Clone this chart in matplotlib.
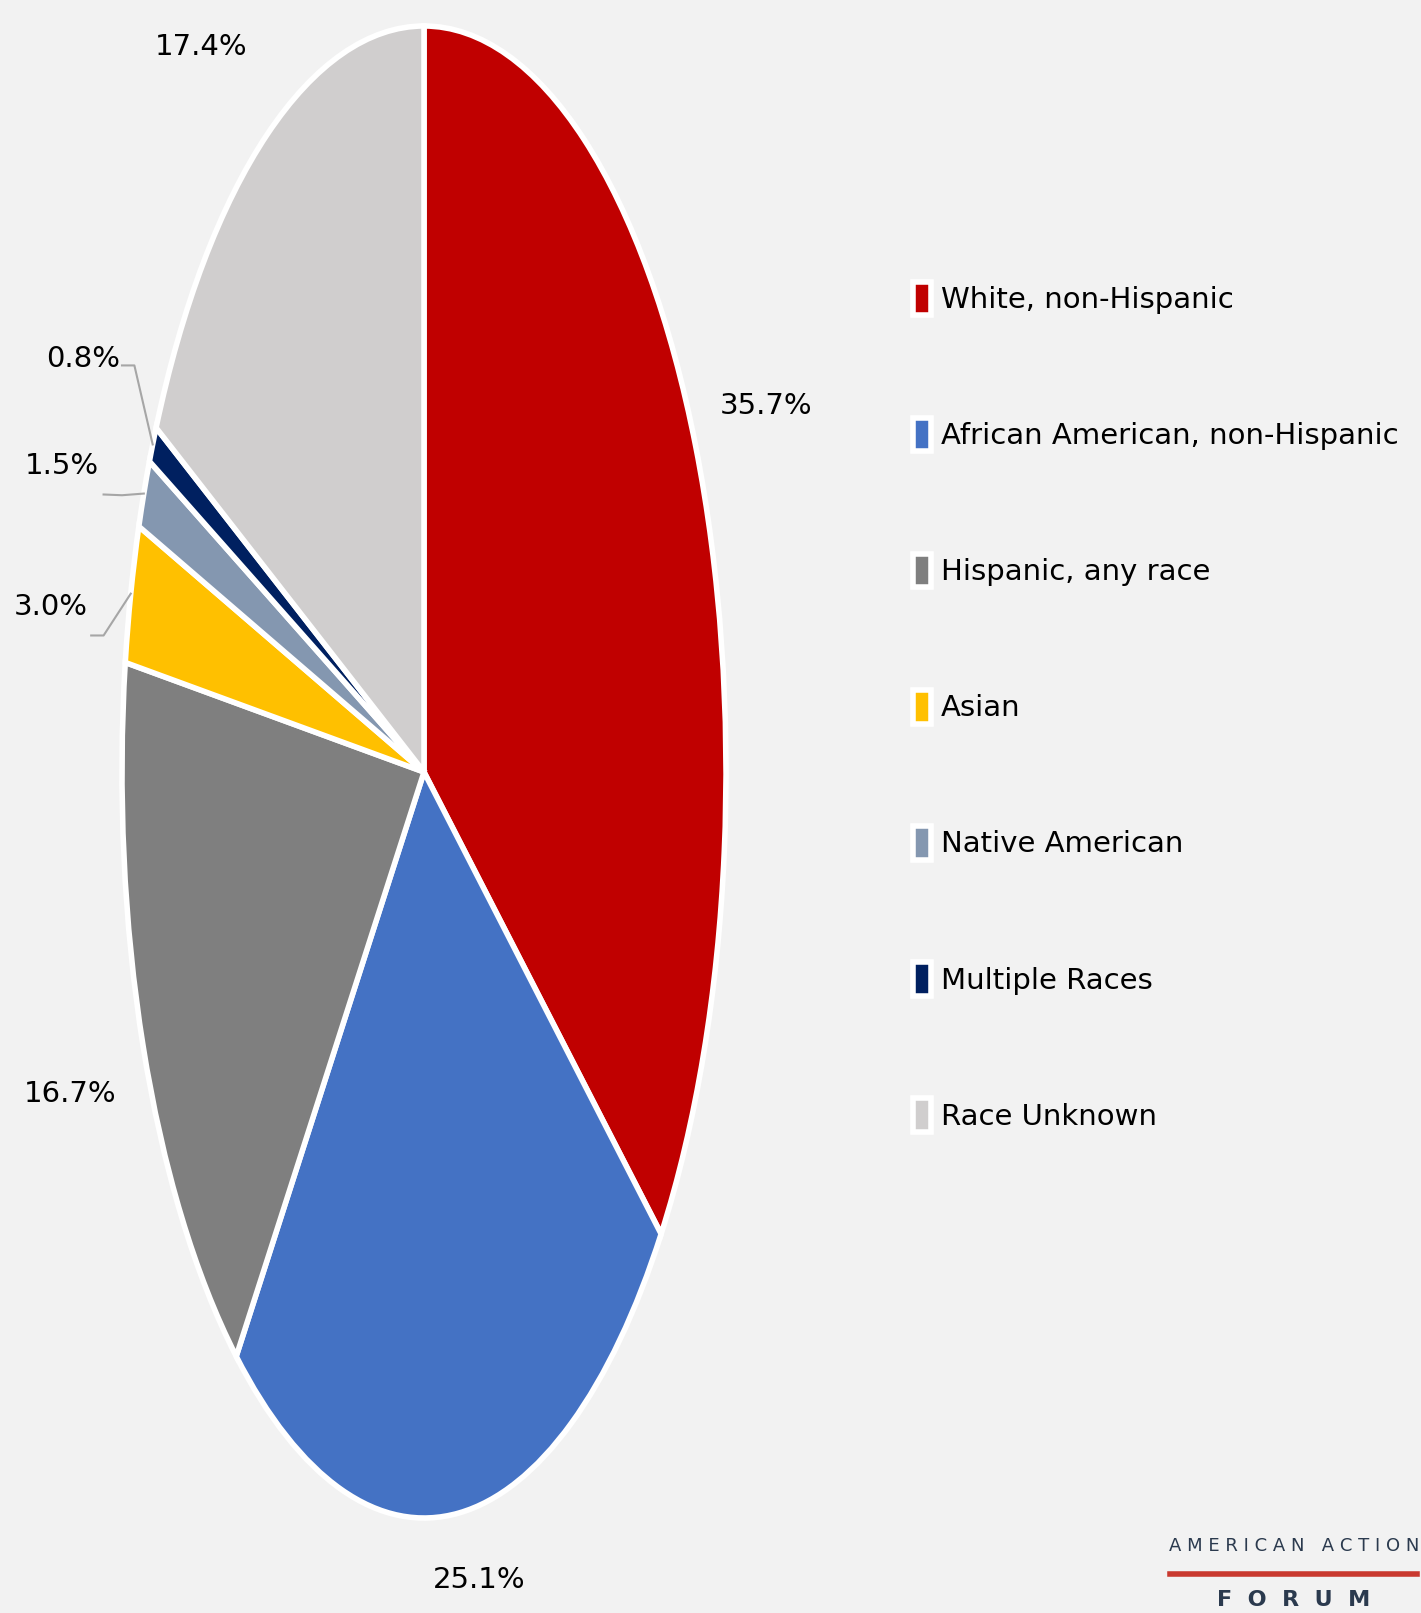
import matplotlib
matplotlib.use('Agg')
import matplotlib.pyplot as plt
import numpy as np

groups = ["White, non-Hispanic", "African American, non-Hispanic", "Hispanic, any race",
          "Asian", "Native American", "Multiple Races", "Race Unknown"]
shares = [35.7, 25.1, 16.7, 3.0, 1.5, 0.8, 17.4]
share_labels = ["35.7%", "25.1%", "16.7%", "3.0%", "1.5%", "0.8%", "17.4%"]
colors = ["#c00000", "#4472c4", "#7f7f7f", "#ffc000", "#8497b0", "#002060", "#d0cece"]

# label anchor points in pie units (radius 1)
label_xy = [(1.133, 0.49), (0.184, -1.083), (-1.173, -0.432), (-1.235, 0.221),
            (-1.20, 0.41), (-1.129, 0.554), (-0.738, 0.972)]
# elbows for leader lines of the small slices
leader_pts = {3: [(-1.102, 0.183), (-1.061, 0.183)],
              4: [(-1.061, 0.372), (-1.0, 0.371)],
              5: [(-1.0, 0.545), (-0.959, 0.545)]}

FONT = 'DejaVu Sans'
BG = '#f2f2f2'

W, H = 1421, 1613
fig = plt.figure(figsize=(W / 100, H / 100), dpi=100)
fig.patch.set_facecolor(BG)

# pie as an ellipse: centre (424, 772) px, radii 302 x 746 px
cx, cy, rx, ry = 424, 772, 302, 746
ax = fig.add_axes([(cx - rx) / W, (H - cy - ry) / H, 2 * rx / W, 2 * ry / H])
ax.set_facecolor(BG)

wedges, _ = ax.pie(shares, colors=colors, startangle=90, counterclock=False,
                   wedgeprops=dict(edgecolor='white', linewidth=4))
ax.set_aspect('auto')
ax.set_xlim(-1, 1)
ax.set_ylim(-1, 1)
ax.axis('off')

for i, (w, lab) in enumerate(zip(wedges, share_labels)):
    x, y = label_xy[i]
    ax.text(x, y, lab, ha='center', va='center', fontsize=21, family=FONT,
            color='black', clip_on=False)
    if i in leader_pts:
        mid = np.deg2rad((w.theta1 + w.theta2) / 2)
        pts = leader_pts[i] + [(np.cos(mid), np.sin(mid))]
        xs, ys = zip(*pts)
        ax.plot(xs, ys, color='#a6a6a6', lw=1.5, clip_on=False)

leg = fig.legend(wedges, groups, loc='upper left', bbox_to_anchor=(901 / W, 1 - 270 / H),
                 frameon=False, prop=dict(family=FONT, size=21),
                 handlelength=0.63, handleheight=1.4, handletextpad=0.35,
                 labelspacing=3.51, borderaxespad=0)

# logo
fig.text(1294 / W, 1 - 1546 / H, "A M E R I C A N   A C T I O N", ha='center', va='center',
         fontsize=13, color='#2b3a4e', family=FONT)
fig.add_artist(plt.Line2D([1170 / W, 1417 / W], [1 - 1574 / H, 1 - 1574 / H],
                          color='#c9392f', lw=4))
fig.text(1294 / W, 1 - 1600 / H, "F  O  R  U  M", ha='center', va='center',
         fontsize=16, color='#2b3a4e', family=FONT, fontweight='bold')

fig.savefig('out.png', dpi=100, facecolor=fig.get_facecolor())
